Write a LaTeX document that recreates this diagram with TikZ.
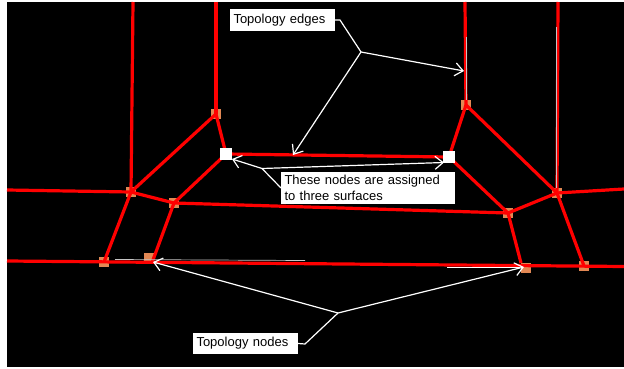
\documentclass[tikz,border=0pt]{standalone}
\usepackage{fontspec}
\setmainfont{Liberation Sans}
\usetikzlibrary{arrows.meta}
\definecolor{nodeorange}{RGB}{226,136,84}
\begin{document}
\begin{tikzpicture}[x=1pt,y=-1pt]
    \tikzstyle{every node}+=[inner sep=0pt,outer sep=0pt]
    \tikzstyle{topo}=[fill=nodeorange,minimum size=10pt]
    \tikzstyle{free}=[fill=white,minimum size=12pt]
    \tikzstyle{edge}=[red,line width=3.2pt,line join=round]
    \tikzstyle{faint}=[white!55!gray,line width=0.7pt]
    \tikzstyle{leader}=[white,line width=1.2pt]
    \tikzstyle{pointer}=[leader,-{Straight Barb[length=8pt,width=13pt,line width=1.2pt]}]
    \tikzstyle{callout}=[fill=white,text=black,align=left,anchor=north west,
        inner xsep=3.5pt,font=\fontsize{13}{16.5}\selectfont]
    \useasboundingbox (0,0) rectangle (624,369);
    \fill [black] (7,2) rectangle (624,367);
    % topology nodes
    \node [topo] (upl) at (216,114) {};
    \node [topo] (upr) at (466,105) {};
    \node [topo] (midl) at (131,192) {};
    \node [topo] (midil) at (174,203) {};
    \node [topo] (midir) at (508,213) {};
    \node [topo] (midr) at (557,193) {};
    \node [topo] (lowl) at (104,262) {};
    \node [topo] (lowil) at (149,258) {};
    \node [topo] (lowir) at (526,268) {};
    \node [topo] (lowr) at (584,266) {};
    \coordinate (freel) at (226,154);
    \coordinate (freer) at (449,157);
    % free ends at the border
    \coordinate (topa) at (133,2);
    \coordinate (topb) at (216,2);
    \coordinate (topc) at (465,2);
    \coordinate (topd) at (558,2);
    \coordinate (westa) at (7,190);
    \coordinate (westb) at (7,261);
    \coordinate (easta) at (624,189);
    \coordinate (eastb) at (624,266.5);
    % faint traces beside the edges
    \coordinate (fa) at (115,259.5);
    \coordinate (fb) at (305,260.5);
    \coordinate (fc) at (447,267.5);
    \coordinate (fd) at (520,267.5);
    \coordinate (fe) at (556,27);
    \coordinate (ff) at (556,188);
    \coordinate (fg) at (466.3,37);
    \coordinate (fh) at (466.3,100);
    % edges
    \draw [edge] (topa) -- (midl.center);
    \draw [edge] (topb) -- (upl.center);
    \draw [edge] (topc) -- (upr.center);
    \draw [edge] (topd) -- (midr.center);
    \draw [edge] (westa) -- (midl.center);
    \draw [edge] (midl.center) -- (midil.center);
    \draw [edge] (midil.center) -- (midir.center);
    \draw [edge] (midir.center) -- (midr.center);
    \draw [edge] (midr.center) -- (easta);
    \draw [edge] (westb) -- (eastb);
    \draw [edge] (midl.center) -- (lowl.center);
    \draw [edge] (midil.center) -- (lowil.-60);
    \draw [edge] (midir.center) -- (lowir.135);
    \draw [edge] (midr.center) -- (lowr.center);
    \draw [edge] (upl.center) -- (midl.center);
    \draw [edge] (upl.center) -- (freel);
    \draw [edge] (freel) -- (midil.center);
    \draw [edge] (freel) -- (freer);
    \draw [edge] (freer) -- (upr.center);
    \draw [edge] (upr.center) -- (midr.center);
    \draw [edge] (freer) -- (midir.center);
    \draw [faint] (fa) -- (fb);
    \draw [white,line width=0.8pt] (fc) -- (fd);
    \draw [faint] (fe) -- (ff);
    \draw [faint] (fg) -- (fh);
    \node [free] (freeleft) at (freel) {};
    \node [free] (freeright) at (freer) {};
    % callouts
    \node [callout,text width=98pt,minimum height=22pt] (edgesbox) at (230,9) {Topology edges};
    \node [callout,text width=167pt,minimum height=32pt] (surfbox) at (281,172) {These nodes are assigned\\to three surfaces};
    \node [callout,text width=98pt,minimum height=21pt] (nodesbox) at (193,333) {Topology nodes};
    \coordinate (edgesfork) at (361,52);
    \coordinate (edgesstart) at (340,20);
    \coordinate (edgeshead) at (464,71);
    \coordinate (edgesheadb) at (293,155);
    \coordinate (surffork) at (262,168.5);
    \coordinate (surfheadl) at (232,159);
    \coordinate (surfheadr) at (444,162.5);
    \coordinate (nodesfork) at (338,313);
    \coordinate (nodeskink) at (305,344);
    \coordinate (nodesheadl) at (153,262);
    \coordinate (nodesheadr) at (524,267);
    \draw [leader] (edgesbox.east) -- (edgesstart) -- (edgesfork);
    \draw [pointer] (edgesfork) -- (edgeshead);
    \draw [pointer] (edgesfork) -- (edgesheadb);
    \draw [leader] (surfbox.west) -- (surffork);
    \draw [pointer] (surffork) -- (surfheadl);
    \draw [pointer] (surffork) -- (surfheadr);
    \draw [leader] (nodesbox.east) -- (nodeskink) -- (nodesfork);
    \draw [pointer] (nodesfork) -- (nodesheadl);
    \draw [pointer] (nodesfork) -- (nodesheadr);
\end{tikzpicture}
\end{document}
